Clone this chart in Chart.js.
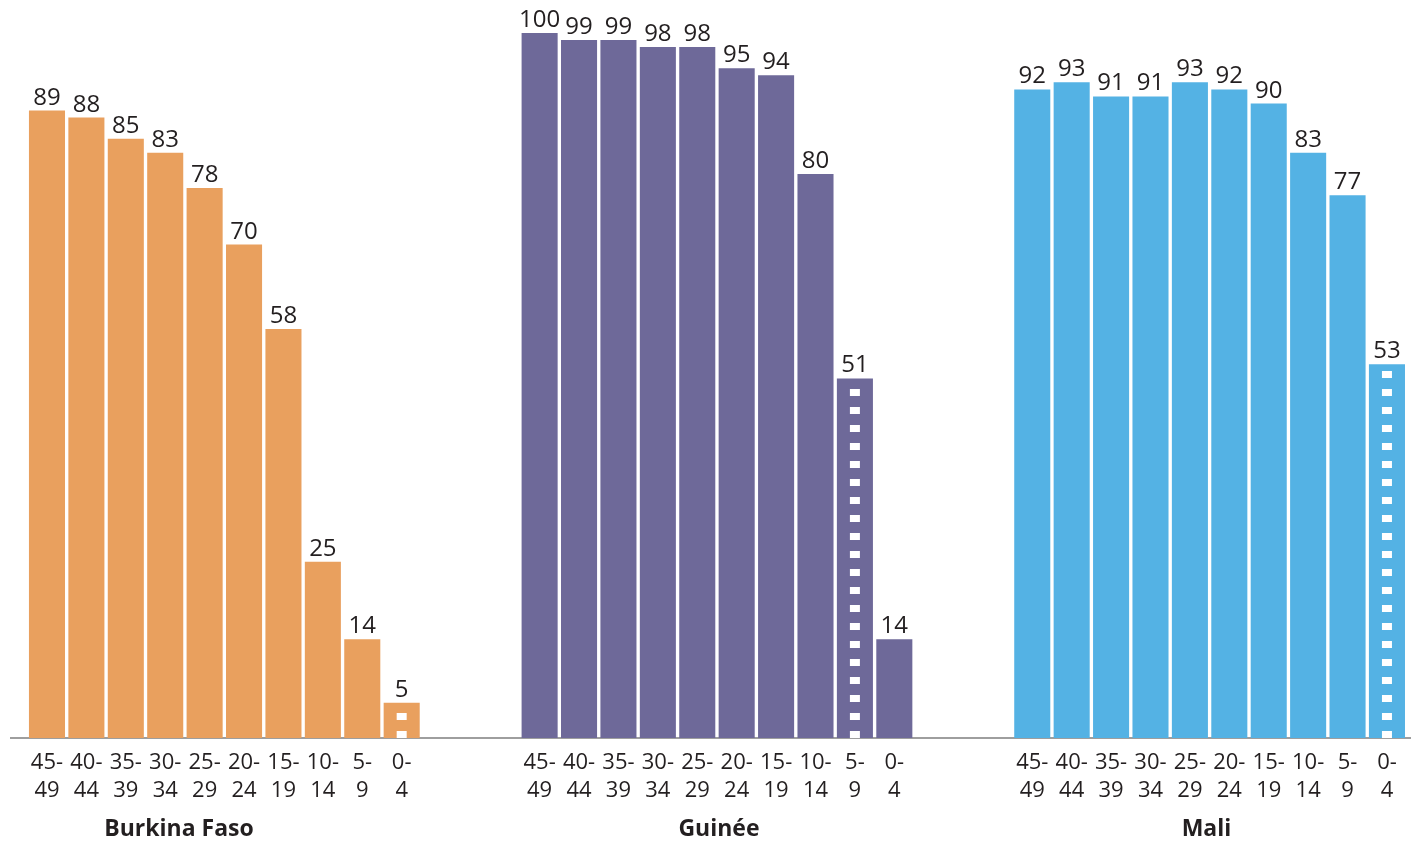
<!DOCTYPE html>
<html lang="fr">
<head>
<meta charset="utf-8">
<title>Cohortes par groupe d'âge</title>
<script src="https://cdn.jsdelivr.net/npm/chart.js@4/dist/chart.umd.min.js"></script>
<style>
  html, body { margin: 0; padding: 0; background: #ffffff; }
  #wrap { width: 1411px; height: 842px; position: relative; }
</style>
</head>
<body>
<div id="wrap"><canvas id="chart"></canvas></div>
<script>
// Age groups, oldest first (two-line tick labels)
const ageTop    = ['45-', '40-', '35-', '30-', '25-', '20-', '15-', '10-', '5-', '0-'];
const ageBottom = ['49', '44', '39', '34', '29', '24', '19', '14', '9', '4'];

const countries = ['Burkina Faso', 'Guinée', 'Mali'];

// Percentages per age group
const burkinaFaso = [89, 88, 85, 83, 78, 70, 58, 25, 14, 5];
const guinee      = [100, 99, 99, 98, 98, 95, 94, 80, 51, 14];
const mali        = [92, 93, 91, 91, 93, 92, 90, 83, 77, 53];

// Index of the age group still incomplete in each country
const partialCohort = [9, 8, 9];

const seriesValues = [burkinaFaso, guinee, mali];
const colors = ['#E9A05E', '#6E6999', '#54B2E4'];

// Layout of the groups along the x axis
const GROUP_STRIDE = 12.5;
const titleAnchor = [3.35, 17.05, 29.42];

const tickPositions = [];
const tickText = [];
countries.forEach((c, g) => {
  ageTop.forEach((t, i) => {
    tickPositions.push(g * GROUP_STRIDE + i);
    tickText.push([t, ageBottom[i]]);
  });
});

const datasets = countries.map((c, g) => ({
  label: c,
  data: seriesValues[g].map((v, i) => ({ x: g * GROUP_STRIDE + i, y: v })),
  backgroundColor: colors[g],
  borderWidth: 0,
  grouped: false,
  barPercentage: 0.915,
  categoryPercentage: 1
}));

const FONT = "'Open Sans', 'Noto Sans', sans-serif";

// Value labels above each bar
const valueLabels = {
  id: 'valueLabels',
  afterDatasetsDraw(chart) {
    const ctx = chart.ctx;
    ctx.save();
    ctx.font = `24px ${FONT}`;
    ctx.fillStyle = '#231F20';
    ctx.textAlign = 'center';
    ctx.textBaseline = 'alphabetic';
    chart.data.datasets.forEach((ds, d) => {
      const meta = chart.getDatasetMeta(d);
      meta.data.forEach((bar, i) => {
        ctx.fillText(String(ds.data[i].y), bar.x, bar.y - 6);
      });
    });
    ctx.restore();
  }
};

// White dashed centre line marking the incomplete age group
const partialMarker = {
  id: 'partialMarker',
  afterDatasetsDraw(chart) {
    const ctx = chart.ctx;
    ctx.save();
    ctx.strokeStyle = '#ffffff';
    ctx.lineWidth = 10;
    ctx.setLineDash([7, 11]);
    partialCohort.forEach((idx, d) => {
      const bar = chart.getDatasetMeta(d).data[idx];
      ctx.beginPath();
      ctx.moveTo(bar.x, bar.base);
      ctx.lineTo(bar.x, bar.y + 1);
      ctx.stroke();
    });
    ctx.restore();
  }
};

new Chart(document.getElementById('chart'), {
  type: 'bar',
  data: { datasets },
  options: {
    responsive: true,
    maintainAspectRatio: false,
    animation: false,
    layout: { padding: { top: 33, left: 11, right: 0, bottom: 0 } },
    plugins: {
      legend: { display: false },
      tooltip: { enabled: false }
    },
    scales: {
      x: {
        type: 'linear',
        position: 'bottom',
        weight: 0,
        min: -0.913,
        max: 34.61,
        offset: false,
        grid: { display: true, drawOnChartArea: false, drawTicks: false, color: 'rgba(0,0,0,0)' },
        border: { display: true, color: '#9E9E9E', width: 2 },
        afterBuildTicks(scale) {
          scale.ticks = tickPositions.map(v => ({ value: v }));
        },
        afterFit(scale) { scale.height = 68; },
        ticks: {
          autoSkip: false,
          maxRotation: 0,
          minRotation: 0,
          padding: 11,
          color: '#231F20',
          font: { family: FONT, size: 22, lineHeight: 1.27 },
          callback(value, index) { return tickText[index]; }
        }
      },
      countryAxis: {
        type: 'linear',
        position: 'bottom',
        weight: 1,
        min: -0.913,
        max: 34.61,
        offset: false,
        grid: { display: false, drawTicks: false },
        border: { display: false },
        afterBuildTicks(scale) {
          scale.ticks = titleAnchor.map(v => ({ value: v }));
        },
        afterFit(scale) { scale.height = 36; },
        ticks: {
          autoSkip: false,
          maxRotation: 0,
          minRotation: 0,
          padding: 10,
          color: '#231F20',
          font: { family: FONT, size: 23, weight: 'bold', lineHeight: 1.2 },
          callback(value, index) { return countries[index]; }
        }
      },
      y: {
        display: false,
        min: 0,
        max: 100
      }
    }
  },
  plugins: [valueLabels, partialMarker]
});
</script>
</body>
</html>
